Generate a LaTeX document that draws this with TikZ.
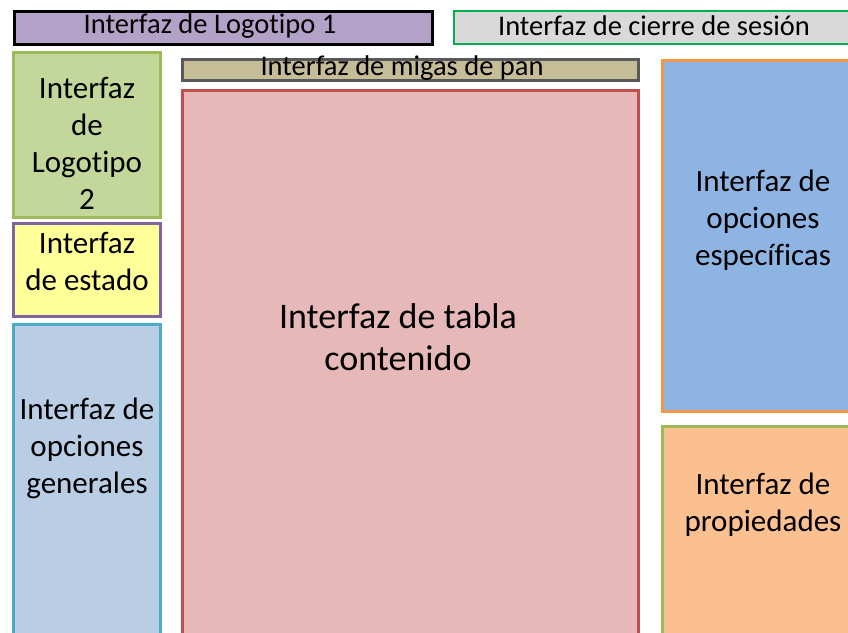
\documentclass[tikz,border=0pt]{standalone}
\usepackage{fontspec}
\setmainfont{Carlito}[Ligatures={NoCommon}]
\usepackage{tikz}
\usetikzlibrary{positioning}

\definecolor{morado}{HTML}{B3A2C7}
\definecolor{gris}{HTML}{D9D9D9}
\definecolor{verdeborde}{HTML}{00B050}
\definecolor{verdeclaro}{HTML}{C4D79B}
\definecolor{verdeoliva}{HTML}{9BBB59}
\definecolor{caqui}{HTML}{C4BD97}
\definecolor{grisoscuro}{HTML}{595959}
\definecolor{rosa}{HTML}{E6B9B8}
\definecolor{rojo}{HTML}{C0504D}
\definecolor{azul}{HTML}{8EB4E3}
\definecolor{naranja}{HTML}{F79646}
\definecolor{melocoton}{HTML}{FAC090}
\definecolor{amarillo}{HTML}{FFFF99}
\definecolor{violeta}{HTML}{8064A2}
\definecolor{celeste}{HTML}{B9CDE5}
\definecolor{turquesa}{HTML}{4BACC6}

\tikzset{
    caja/.style 2 args={rectangle, draw=#1, fill=#2, line width=2.8pt,
        inner sep=0pt, anchor=north west, align=center,
        font=\fontsize{31}{37}\selectfont},
    texto/.style={align=center, inner sep=0pt, font=\fontsize{31}{37}\selectfont}
}

\begin{document}
\begin{tikzpicture}[x=1pt, y=-1pt]
    \useasboundingbox (0,0) rectangle (848,632);
    \clip (0,0) rectangle (848,632);

    % cabecera
    \node[caja={black}{morado}, line width=3.2pt, minimum width=418pt, minimum height=33pt] (logo1) at (12.5,9.5) {};
    \node[texto, font=\fontsize{28.5}{37}\selectfont] (logo1txt) at (210,26) {Interfaz de Logotipo 1};
    \node[caja={verdeborde}{gris}, minimum width=410pt, minimum height=33pt] (sesion) at (452.5,9.5) {};
    \node[texto, font=\fontsize{28.5}{37}\selectfont] (sesiontxt) at (654,26) {Interfaz de cierre de sesión};

    % columna izquierda
    \node[caja={verdeoliva}{verdeclaro}, minimum width=147pt, minimum height=165pt] (logo2) at (12,51) {};
    \node[texto] (logo2txt) at (87,143) {Interfaz\\de\\Logotipo\\2};
    \node[caja={violeta}{amarillo}, minimum width=147pt, minimum height=93pt] (estado) at (12,222) {};
    \node[texto] (estadotxt) at (87,261) {Interfaz\\de estado};
    \node[caja={turquesa}{celeste}, minimum width=147pt, minimum height=340pt] (generales) at (12,323) {};
    \node[texto] (generalestxt) at (87,448) {Interfaz de\\opciones\\generales};

    % centro
    \node[caja={grisoscuro}{caqui}, minimum width=456pt, minimum height=21pt] (migas) at (181,58) {};
    \node[texto, font=\fontsize{28.5}{30}\selectfont] (migastxt) at (402,68) {Interfaz de migas de pan};
    \node[caja={rojo}{rosa}, minimum width=456pt, minimum height=600pt] (tabla) at (181,89) {};
    \node[texto, font=\fontsize{36}{42}\selectfont] (tablatxt) at (398,337) {Interfaz de tabla\\contenido};

    % columna derecha
    \node[caja={naranja}{azul}, minimum width=210pt, minimum height=351pt] (especificas) at (661,59) {};
    \node[texto] (especificastxt) at (763,220) {Interfaz de\\opciones\\específicas};
    \node[caja={verdeoliva}{melocoton}, minimum width=210pt, minimum height=300pt] (propiedades) at (661,425) {};
    \node[texto] (propiedadestxt) at (763,505) {Interfaz de\\propiedades};
\end{tikzpicture}
\end{document}
